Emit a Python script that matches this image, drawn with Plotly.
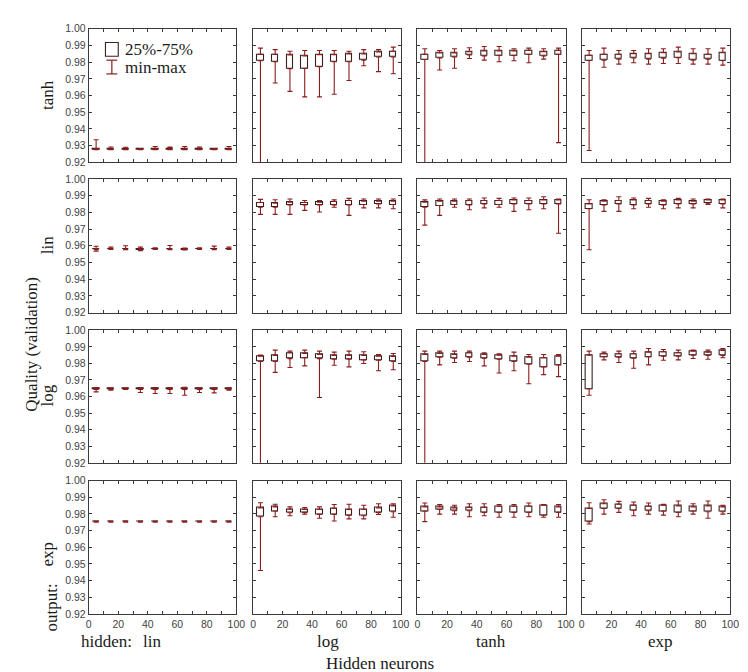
import plotly.graph_objects as go
from plotly.subplots import make_subplots

# ---------------- data ----------------
hidden_neurons = [5, 15, 25, 35, 45, 55, 65, 75, 85, 95]
output_acts = ["tanh", "lin", "log", "exp"]      # rows
hidden_acts = ["lin", "log", "tanh", "exp"]      # columns
x_tick_vals = [0, 10, 20, 30, 40, 50, 60, 70, 80, 90, 100]
x_tick_text = ["0", "", "20", "", "40", "", "60", "", "80", "", "100"]
y_tick_vals = [0.92, 0.93, 0.94, 0.95, 0.96, 0.97, 0.98, 0.99, 1.00]

# output tanh
tanh_lin_min = [0.9275, 0.9275, 0.9276, 0.9276, 0.9275, 0.9275, 0.9275, 0.9276, 0.9276, 0.9275]
tanh_lin_q1 = [0.9277, 0.9277, 0.9277, 0.9277, 0.9277, 0.9277, 0.9277, 0.9277, 0.9277, 0.9277]
tanh_lin_q3 = [0.9282, 0.9281, 0.9280, 0.9280, 0.9281, 0.9284, 0.9281, 0.9280, 0.9280, 0.9281]
tanh_lin_max = [0.9335, 0.9292, 0.9290, 0.9283, 0.9295, 0.9291, 0.9295, 0.9291, 0.9283, 0.9295]

tanh_log_min = [0.9000, 0.9675, 0.9625, 0.9592, 0.9592, 0.9608, 0.9690, 0.9778, 0.9743, 0.9730]
tanh_log_q1 = [0.9808, 0.9802, 0.9761, 0.9763, 0.9773, 0.9802, 0.9802, 0.9812, 0.9831, 0.9831]
tanh_log_q3 = [0.9847, 0.9847, 0.9843, 0.9837, 0.9845, 0.9845, 0.9849, 0.9849, 0.9861, 0.9865]
tanh_log_max = [0.9884, 0.9875, 0.9865, 0.9870, 0.9870, 0.9870, 0.9865, 0.9875, 0.9875, 0.9890]

tanh_tanh_min = [0.9000, 0.9753, 0.9763, 0.9822, 0.9812, 0.9802, 0.9808, 0.9796, 0.9818, 0.9318]
tanh_tanh_q1 = [0.9816, 0.9825, 0.9831, 0.9843, 0.9837, 0.9841, 0.9841, 0.9847, 0.9837, 0.9847]
tanh_tanh_q3 = [0.9847, 0.9855, 0.9855, 0.9863, 0.9867, 0.9867, 0.9867, 0.9871, 0.9863, 0.9871]
tanh_tanh_max = [0.9880, 0.9870, 0.9880, 0.9886, 0.9894, 0.9894, 0.9880, 0.9884, 0.9880, 0.9884]

tanh_exp_min = [0.9271, 0.9769, 0.9788, 0.9796, 0.9788, 0.9792, 0.9792, 0.9788, 0.9788, 0.9782]
tanh_exp_q1 = [0.9810, 0.9812, 0.9818, 0.9825, 0.9818, 0.9824, 0.9827, 0.9812, 0.9818, 0.9810]
tanh_exp_q3 = [0.9841, 0.9847, 0.9847, 0.9851, 0.9851, 0.9857, 0.9861, 0.9851, 0.9847, 0.9857]
tanh_exp_max = [0.9870, 0.9884, 0.9870, 0.9870, 0.9880, 0.9880, 0.9890, 0.9880, 0.9880, 0.9884]

# output lin
lin_lin_min = [0.9568, 0.9578, 0.9577, 0.9571, 0.9578, 0.9577, 0.9575, 0.9578, 0.9577, 0.9578]
lin_lin_q1 = [0.9578, 0.9578, 0.9578, 0.9576, 0.9578, 0.9578, 0.9577, 0.9578, 0.9578, 0.9578]
lin_lin_q3 = [0.9583, 0.9582, 0.9582, 0.9582, 0.9582, 0.9582, 0.9582, 0.9582, 0.9582, 0.9582]
lin_lin_max = [0.9597, 0.9592, 0.9600, 0.9592, 0.9588, 0.9602, 0.9586, 0.9588, 0.9598, 0.9592]

lin_log_min = [0.9788, 0.9788, 0.9788, 0.9812, 0.9802, 0.9831, 0.9782, 0.9827, 0.9827, 0.9822]
lin_log_q1 = [0.9831, 0.9831, 0.9845, 0.9845, 0.9845, 0.9845, 0.9845, 0.9847, 0.9851, 0.9847]
lin_log_q3 = [0.9859, 0.9855, 0.9861, 0.9859, 0.9861, 0.9865, 0.9871, 0.9867, 0.9867, 0.9867]
lin_log_max = [0.9878, 0.9876, 0.9880, 0.9871, 0.9871, 0.9875, 0.9884, 0.9880, 0.9880, 0.9880]

lin_tanh_min = [0.9724, 0.9782, 0.9831, 0.9816, 0.9827, 0.9831, 0.9806, 0.9816, 0.9822, 0.9675]
lin_tanh_q1 = [0.9831, 0.9841, 0.9847, 0.9845, 0.9851, 0.9847, 0.9851, 0.9851, 0.9851, 0.9851]
lin_tanh_q3 = [0.9861, 0.9867, 0.9867, 0.9871, 0.9871, 0.9871, 0.9875, 0.9871, 0.9875, 0.9875]
lin_tanh_max = [0.9875, 0.9880, 0.9880, 0.9880, 0.9886, 0.9884, 0.9886, 0.9886, 0.9894, 0.9880]

lin_exp_min = [0.9576, 0.9806, 0.9806, 0.9822, 0.9831, 0.9822, 0.9827, 0.9827, 0.9847, 0.9827]
lin_exp_q1 = [0.9822, 0.9845, 0.9851, 0.9845, 0.9851, 0.9845, 0.9851, 0.9851, 0.9855, 0.9851]
lin_exp_q3 = [0.9851, 0.9867, 0.9871, 0.9875, 0.9871, 0.9867, 0.9875, 0.9867, 0.9875, 0.9875]
lin_exp_max = [0.9876, 0.9876, 0.9894, 0.9886, 0.9884, 0.9875, 0.9884, 0.9880, 0.9880, 0.9880]

# output log
log_lin_min = [0.9628, 0.9638, 0.9643, 0.9624, 0.9618, 0.9618, 0.9608, 0.9624, 0.9622, 0.9638]
log_lin_q1 = [0.9643, 0.9643, 0.9643, 0.9643, 0.9643, 0.9643, 0.9643, 0.9643, 0.9643, 0.9643]
log_lin_q3 = [0.9648, 0.9648, 0.9648, 0.9648, 0.9648, 0.9648, 0.9648, 0.9648, 0.9648, 0.9648]
log_lin_max = [0.9655, 0.9652, 0.9651, 0.9654, 0.9654, 0.9654, 0.9656, 0.9653, 0.9653, 0.9651]

log_log_min = [0.9000, 0.9746, 0.9775, 0.9785, 0.9594, 0.9789, 0.9779, 0.9799, 0.9756, 0.9762]
log_log_q1 = [0.9811, 0.9811, 0.9829, 0.9834, 0.9829, 0.9825, 0.9825, 0.9821, 0.9819, 0.9811]
log_log_q3 = [0.9844, 0.9848, 0.9864, 0.9860, 0.9854, 0.9848, 0.9848, 0.9848, 0.9844, 0.9842]
log_log_max = [0.9850, 0.9880, 0.9874, 0.9880, 0.9874, 0.9868, 0.9874, 0.9870, 0.9854, 0.9860]

log_tanh_min = [0.9000, 0.9791, 0.9805, 0.9811, 0.9785, 0.9742, 0.9756, 0.9677, 0.9732, 0.9720]
log_tanh_q1 = [0.9811, 0.9838, 0.9831, 0.9838, 0.9831, 0.9825, 0.9811, 0.9795, 0.9779, 0.9791]
log_tanh_q3 = [0.9854, 0.9860, 0.9854, 0.9864, 0.9854, 0.9850, 0.9844, 0.9838, 0.9834, 0.9844]
log_tanh_max = [0.9874, 0.9874, 0.9874, 0.9874, 0.9864, 0.9858, 0.9868, 0.9854, 0.9854, 0.9854]

log_exp_min = [0.9608, 0.9821, 0.9805, 0.9771, 0.9791, 0.9819, 0.9821, 0.9830, 0.9825, 0.9834]
log_exp_q1 = [0.9647, 0.9840, 0.9838, 0.9831, 0.9840, 0.9844, 0.9844, 0.9850, 0.9848, 0.9848]
log_exp_q3 = [0.9850, 0.9858, 0.9858, 0.9858, 0.9868, 0.9870, 0.9864, 0.9874, 0.9868, 0.9878]
log_exp_max = [0.9874, 0.9868, 0.9874, 0.9874, 0.9890, 0.9884, 0.9880, 0.9880, 0.9880, 0.9890]

# output exp
exp_lin_min = [0.9751, 0.9751, 0.9751, 0.9751, 0.9751, 0.9751, 0.9751, 0.9751, 0.9751, 0.9751]
exp_lin_q1 = [0.9753, 0.9753, 0.9753, 0.9753, 0.9753, 0.9753, 0.9753, 0.9753, 0.9753, 0.9753]
exp_lin_q3 = [0.9756, 0.9756, 0.9756, 0.9756, 0.9756, 0.9756, 0.9756, 0.9756, 0.9756, 0.9756]
exp_lin_max = [0.9758, 0.9758, 0.9758, 0.9758, 0.9758, 0.9758, 0.9758, 0.9758, 0.9758, 0.9758]

exp_log_min = [0.9461, 0.9783, 0.9789, 0.9799, 0.9774, 0.9758, 0.9770, 0.9770, 0.9797, 0.9780]
exp_log_q1 = [0.9783, 0.9817, 0.9807, 0.9809, 0.9797, 0.9797, 0.9793, 0.9789, 0.9809, 0.9813]
exp_log_q3 = [0.9836, 0.9842, 0.9828, 0.9826, 0.9826, 0.9832, 0.9826, 0.9826, 0.9836, 0.9848]
exp_log_max = [0.9867, 0.9858, 0.9842, 0.9838, 0.9842, 0.9856, 0.9858, 0.9852, 0.9861, 0.9861]

exp_tanh_min = [0.9754, 0.9799, 0.9799, 0.9783, 0.9789, 0.9780, 0.9780, 0.9783, 0.9780, 0.9780]
exp_tanh_q1 = [0.9817, 0.9826, 0.9819, 0.9819, 0.9809, 0.9809, 0.9809, 0.9809, 0.9793, 0.9809]
exp_tanh_q3 = [0.9842, 0.9842, 0.9836, 0.9838, 0.9838, 0.9846, 0.9846, 0.9846, 0.9852, 0.9842]
exp_tanh_max = [0.9865, 0.9856, 0.9852, 0.9861, 0.9861, 0.9856, 0.9856, 0.9865, 0.9856, 0.9856]

exp_exp_min = [0.9740, 0.9799, 0.9809, 0.9789, 0.9799, 0.9793, 0.9783, 0.9799, 0.9774, 0.9799]
exp_exp_q1 = [0.9754, 0.9832, 0.9832, 0.9822, 0.9819, 0.9817, 0.9809, 0.9817, 0.9813, 0.9813]
exp_exp_q3 = [0.9832, 0.9861, 0.9858, 0.9852, 0.9846, 0.9852, 0.9848, 0.9842, 0.9848, 0.9842]
exp_exp_max = [0.9867, 0.9885, 0.9875, 0.9871, 0.9865, 0.9858, 0.9877, 0.9861, 0.9877, 0.9852]

panels = {
    ("tanh", "lin"): (tanh_lin_min, tanh_lin_q1, tanh_lin_q3, tanh_lin_max),
    ("tanh", "log"): (tanh_log_min, tanh_log_q1, tanh_log_q3, tanh_log_max),
    ("tanh", "tanh"): (tanh_tanh_min, tanh_tanh_q1, tanh_tanh_q3, tanh_tanh_max),
    ("tanh", "exp"): (tanh_exp_min, tanh_exp_q1, tanh_exp_q3, tanh_exp_max),
    ("lin", "lin"): (lin_lin_min, lin_lin_q1, lin_lin_q3, lin_lin_max),
    ("lin", "log"): (lin_log_min, lin_log_q1, lin_log_q3, lin_log_max),
    ("lin", "tanh"): (lin_tanh_min, lin_tanh_q1, lin_tanh_q3, lin_tanh_max),
    ("lin", "exp"): (lin_exp_min, lin_exp_q1, lin_exp_q3, lin_exp_max),
    ("log", "lin"): (log_lin_min, log_lin_q1, log_lin_q3, log_lin_max),
    ("log", "log"): (log_log_min, log_log_q1, log_log_q3, log_log_max),
    ("log", "tanh"): (log_tanh_min, log_tanh_q1, log_tanh_q3, log_tanh_max),
    ("log", "exp"): (log_exp_min, log_exp_q1, log_exp_q3, log_exp_max),
    ("exp", "lin"): (exp_lin_min, exp_lin_q1, exp_lin_q3, exp_lin_max),
    ("exp", "log"): (exp_log_min, exp_log_q1, exp_log_q3, exp_log_max),
    ("exp", "tanh"): (exp_tanh_min, exp_tanh_q1, exp_tanh_q3, exp_tanh_max),
    ("exp", "exp"): (exp_exp_min, exp_exp_q1, exp_exp_q3, exp_exp_max),
}

# ---------------- style ----------------
W, H = 748, 672
BOX_LINE = "#3b1f1f"
WHISKER = "#8a1c1c"
AXIS = "#3a3a3a"
TEXT = "#1a1a1a"
SERIF = "Liberation Serif, Times New Roman, serif"
SANS = "Liberation Sans, Arial, sans-serif"

col_px = [(79, 229), (246, 396), (413, 564), (580, 731)]
row_px = [(15, 151), (168, 304), (322, 457), (475, 611)]


def px_x(p):
    return p / W


def px_y(p):
    return 1 - p / H


fig = make_subplots(rows=4, cols=4)

for r, out_act in enumerate(output_acts):
    for c, hid_act in enumerate(hidden_acts):
        mins, q1, q3, maxs = panels[(out_act, hid_act)]
        heights = [b - a for a, b in zip(q1, q3)]
        up = [m - b for b, m in zip(q3, maxs)]
        down = [a - m for a, m in zip(q1, mins)]
        zeros = [0] * len(hidden_neurons)
        fig.add_trace(go.Bar(
            x=hidden_neurons, y=heights, base=q1, width=4.4,
            marker=dict(color="white", line=dict(color=BOX_LINE, width=1.1)),
            showlegend=False, hoverinfo="skip"), row=r + 1, col=c + 1)
        fig.add_trace(go.Scatter(
            x=hidden_neurons, y=q3, mode="markers",
            marker=dict(size=1, color="rgba(0,0,0,0)"),
            error_y=dict(type="data", symmetric=False, array=up, arrayminus=zeros,
                         color=WHISKER, thickness=1.1, width=2.5),
            showlegend=False, hoverinfo="skip"), row=r + 1, col=c + 1)
        fig.add_trace(go.Scatter(
            x=hidden_neurons, y=q1, mode="markers",
            marker=dict(size=1, color="rgba(0,0,0,0)"),
            error_y=dict(type="data", symmetric=False, array=zeros, arrayminus=down,
                         color=WHISKER, thickness=1.1, width=2.5),
            showlegend=False, hoverinfo="skip"), row=r + 1, col=c + 1)

        idx = r * 4 + c + 1
        xa = "xaxis" if idx == 1 else f"xaxis{idx}"
        ya = "yaxis" if idx == 1 else f"yaxis{idx}"
        fig.layout[xa].update(
            domain=[px_x(col_px[c][0]), px_x(col_px[c][1])],
            range=[0, 100], tickvals=x_tick_vals, ticktext=x_tick_text,
            showticklabels=(r == 3), ticks="inside", ticklen=3, tickcolor=AXIS,
            showline=True, linecolor=AXIS, linewidth=1, mirror="allticks",
            showgrid=False, zeroline=False,
            tickfont=dict(family=SANS, size=10.5, color="#444"))
        fig.layout[ya].update(
            domain=[px_y(row_px[r][1]), px_y(row_px[r][0])],
            range=[0.92, 1.0], tickvals=y_tick_vals, tickformat=".2f",
            showticklabels=(c == 0), ticks="inside", ticklen=3, tickcolor=AXIS,
            showline=True, linecolor=AXIS, linewidth=1, mirror="allticks",
            showgrid=False, zeroline=False,
            tickfont=dict(family=SANS, size=10.5, color="#444"))

annotations = []


def label(text, x, y, size=17, angle=0):
    annotations.append(dict(
        text=text, x=px_x(x), y=px_y(y), xref="paper", yref="paper",
        showarrow=False, textangle=angle, xanchor="center", yanchor="middle",
        font=dict(family=SERIF, size=size, color=TEXT)))


row_label_y = [82, 235, 388, 550]
for name, yy in zip(output_acts, row_label_y):
    label(name, 37, yy, size=17, angle=-90)
label("output:", 41, 604, size=17, angle=-90)
label("Quality (validation)", 20, 336, size=17, angle=-90)
label("hidden:", 97, 639, size=17)
col_label_x = [143, 322, 488, 660]
for name, xx in zip(hidden_acts, col_label_x):
    label(name, xx, 639, size=17)
label("Hidden neurons", 375, 661, size=17)

# legend (drawn inside the first panel)
annotations.append(dict(text="25%-75%", x=px_x(114), y=px_y(36), xref="paper", yref="paper",
                        showarrow=False, xanchor="left", yanchor="middle",
                        font=dict(family=SERIF, size=17, color=TEXT)))
annotations.append(dict(text="min-max", x=px_x(114), y=px_y(54), xref="paper", yref="paper",
                        showarrow=False, xanchor="left", yanchor="middle",
                        font=dict(family=SERIF, size=17, color=TEXT)))

shapes = [
    dict(type="rect", xref="paper", yref="paper",
         x0=px_x(96), x1=px_x(109), y0=px_y(43), y1=px_y(29),
         line=dict(color=BOX_LINE, width=1.1), fillcolor="white"),
    dict(type="line", xref="paper", yref="paper",
         x0=px_x(102.5), x1=px_x(102.5), y0=px_y(47), y1=px_y(61),
         line=dict(color=WHISKER, width=1.2)),
    dict(type="line", xref="paper", yref="paper",
         x0=px_x(97), x1=px_x(108), y0=px_y(47), y1=px_y(47),
         line=dict(color=WHISKER, width=1.2)),
    dict(type="line", xref="paper", yref="paper",
         x0=px_x(97), x1=px_x(108), y0=px_y(61), y1=px_y(61),
         line=dict(color=WHISKER, width=1.2)),
]

fig.update_layout(
    width=W, height=H, margin=dict(l=0, r=0, t=0, b=0),
    paper_bgcolor="white", plot_bgcolor="white",
    annotations=annotations, shapes=shapes, showlegend=False,
    bargap=0,
)

fig.write_html("out.html")
